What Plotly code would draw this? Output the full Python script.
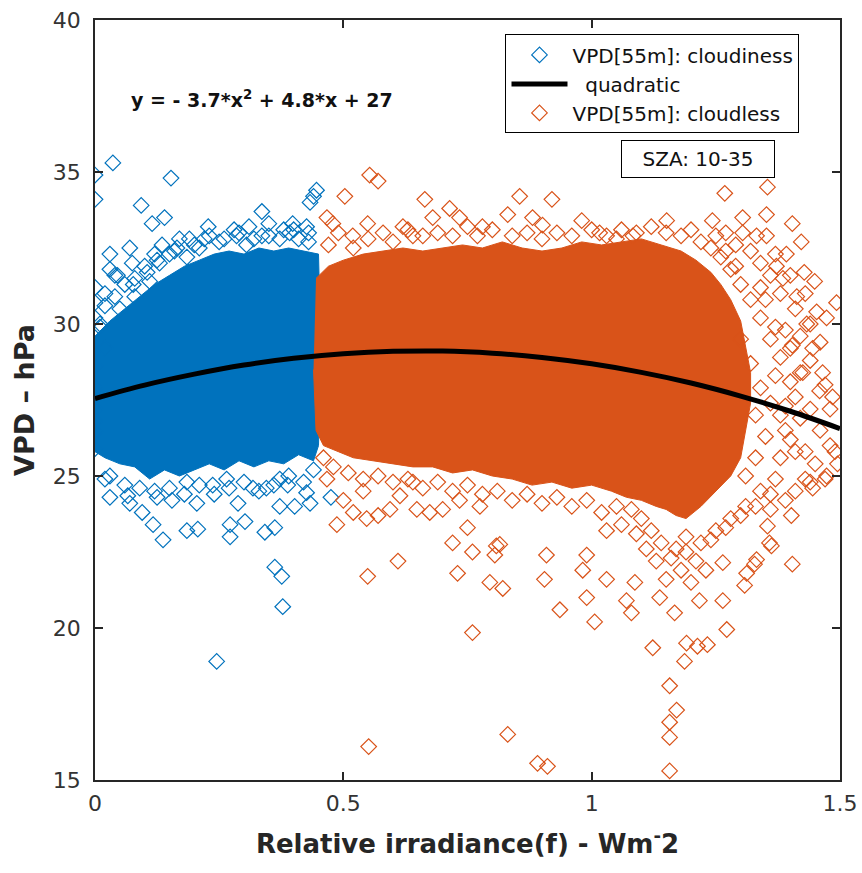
import plotly.graph_objects as go

# ---------------- data ----------------
# cloudiness: dense core envelope (x, y)
blue_core_x = [0, 0.03, 0.06, 0.09, 0.12, 0.15, 0.18, 0.21, 0.24, 0.27, 0.30, 0.33, 0.36, 0.39, 0.42, 0.45,
               0.455, 0.45,
               0.44, 0.41, 0.38, 0.35, 0.32, 0.29, 0.26, 0.23, 0.20, 0.17, 0.14, 0.11, 0.08, 0.05, 0.02, 0]
blue_core_y = [29.6, 30.1, 30.5, 30.9, 31.3, 31.6, 31.9, 32.1, 32.3, 32.4, 32.3, 32.5, 32.4, 32.5, 32.4, 32.3,
               29.0, 26.0,
               25.5, 25.7, 25.4, 25.5, 25.3, 25.5, 25.2, 25.4, 25.2, 25.0, 25.2, 24.9, 25.3, 25.4, 25.6, 25.8]

# cloudiness: individual points
blue_x = [0.036, 0.0, 0.0, 0.153, 0.093, 0.115, 0.14, 0.336, 0.44, 0.446, 0.433, 0.228, 0.07, 0.03, 0.03, 0.04,
          0.0, 0.0, 0.0, 0.135, 0.165, 0.19, 0.285, 0.336, 0.372, 0.398, 0.426, 0.077, 0.105, 0.125, 0.15,
          0.185, 0.21, 0.25, 0.305, 0.392,
          0.245, 0.378, 0.362, 0.376, 0.137, 0.117, 0.095, 0.03, 0.07, 0.125, 0.155, 0.185, 0.207, 0.205,
          0.272, 0.272, 0.302, 0.288, 0.342, 0.362, 0.372, 0.402, 0.433, 0.475, 0.388, 0.318, 0.237, 0.0,
          0.0, 0.02, 0.066, 0.185, 0.265, 0.345, 0.372, 0.426,
          0.01, 0.02, 0.0, 0.0, 0.0, 0.0, 0.02, 0.04, 0.06, 0.08, 0.10, 0.13, 0.16, 0.20, 0.23, 0.26, 0.29,
          0.32, 0.35, 0.38, 0.41, 0.43, 0.03, 0.06, 0.09, 0.12, 0.15, 0.18, 0.21, 0.24, 0.27, 0.30, 0.33,
          0.36, 0.39, 0.42, 0.44,
          0.05, 0.08, 0.11, 0.045, 0.075, 0.02, 0.01, 0.12, 0.17, 0.22, 0.28, 0.31, 0.35, 0.40, 0.43]
blue_y = [35.3, 34.9, 34.1, 34.8, 33.9, 33.3, 33.5, 33.7, 34.2, 34.4, 34.0, 33.2, 32.5, 32.3, 31.8, 31.6,
          31.2, 30.7, 30.2, 32.6, 32.5, 32.8, 32.9, 32.9, 32.8, 33.3, 33.2, 31.3, 31.7, 32.1, 32.3,
          32.2, 32.5, 32.7, 32.6, 33.0,
          18.9, 20.7, 22.0, 21.7, 22.9, 23.4, 23.8, 24.3, 24.1, 24.3, 24.2, 23.2, 23.25, 24.1,
          23.0, 23.4, 23.5, 24.1, 23.15, 23.3, 24.0, 24.0, 24.1, 24.3, 24.7, 24.6, 24.7, 26.45,
          25.9, 24.9, 24.35, 24.8, 24.9, 24.6, 24.9, 24.45,
          30.0, 29.2, 28.6, 27.9, 27.2, 26.8, 31.0, 30.9, 31.3, 31.5, 31.9, 32.0, 32.4, 32.6, 32.9, 32.8, 33.0,
          32.8, 32.9, 33.1, 32.8, 33.0, 25.0, 24.7, 24.6, 24.5, 24.6, 24.4, 24.7, 24.4, 24.6, 24.8, 24.5,
          24.7, 25.0, 24.8, 25.2,
          30.5, 30.9, 31.4, 31.6, 32.0, 30.6, 29.9, 32.3, 32.8, 32.8, 33.1, 33.2, 33.3, 33.1, 32.7]

# cloudless: dense core envelope (x, y)
orange_core_x = [0.445, 0.47, 0.50, 0.54, 0.58, 0.62, 0.66, 0.70, 0.74, 0.78, 0.82, 0.86, 0.90, 0.94, 0.98,
                 1.02, 1.06, 1.10, 1.14, 1.18, 1.21, 1.24, 1.26, 1.28, 1.30, 1.31, 1.32, 1.32,
                 1.31, 1.30, 1.28,
                 1.25, 1.22, 1.19, 1.17, 1.15, 1.13, 1.10, 1.07, 1.04, 1.00, 0.96, 0.92, 0.88, 0.84,
                 0.80, 0.76, 0.72, 0.68, 0.64, 0.60, 0.56, 0.52, 0.49, 0.46, 0.445, 0.44]
orange_core_y = [31.5, 31.9, 32.1, 32.3, 32.4, 32.5, 32.4, 32.5, 32.6, 32.5, 32.7, 32.5, 32.4, 32.5, 32.7,
                 32.6, 32.7, 32.8, 32.6, 32.4, 32.1, 31.7, 31.3, 30.8, 30.1, 29.3, 28.4, 27.4,
                 26.5, 25.6, 25.0,
                 24.5, 24.0, 23.6, 23.7, 23.9, 24.0, 24.2, 24.3, 24.5, 24.7, 24.6, 24.8, 24.7, 24.9,
                 25.0, 25.2, 25.1, 25.3, 25.3, 25.4, 25.5, 25.6, 25.8, 26.0, 26.5, 28.5]

# cloudless: individual points
orange_x = [0.664, 0.714, 0.734, 0.855, 0.831, 0.92, 0.98, 1.268, 1.354, 1.352, 1.304, 1.243, 1.404, 1.422,
            1.352, 1.392, 1.428, 1.449, 1.493, 1.453, 1.473, 1.445, 1.465, 1.485, 1.459, 1.425, 1.404, 1.433,
            1.413, 1.385, 1.372, 1.151, 1.304, 1.332, 1.083, 1.05, 1.016, 0.901, 0.881, 0.78, 0.68, 0.62, 0.64,
            1.495, 1.473, 1.445, 1.402, 1.404, 1.362, 1.354, 1.328, 1.308, 1.264, 1.272, 1.217, 1.233, 1.213,
            1.191, 1.187, 1.157, 1.171, 1.157, 1.157, 1.157, 1.123, 1.137, 1.167, 1.08, 1.07, 1.006, 0.99,
            0.936, 0.831, 0.891, 0.911, 0.821, 0.795, 0.905, 0.909, 0.99, 0.982, 1.03, 0.815, 0.805, 1.087,
            1.264, 1.312, 1.332, 1.358,
            0.549, 0.61, 0.73, 0.72, 0.76, 0.76, 0.75, 0.487, 0.467, 0.52, 0.547, 0.57, 0.594, 0.648, 0.674,
            0.7, 0.5, 0.54, 0.614, 0.64, 0.734, 0.775, 0.808, 0.551,
            0.553, 0.503, 0.467, 0.479, 0.549, 0.519, 0.57,
            0.47, 0.49, 0.52, 0.55, 0.58, 0.60, 0.63, 0.66, 0.69, 0.72, 0.75, 0.77, 0.80, 0.84, 0.87, 0.90,
            0.93, 0.96, 1.00, 1.03, 1.06, 1.09, 1.12, 1.15, 1.18, 1.20, 1.22, 1.24, 1.26, 1.28, 1.30, 1.32,
            1.34, 1.36, 1.38, 1.40, 1.39, 1.42, 1.40, 1.43, 1.38, 1.37, 1.34, 1.31, 1.28, 1.25, 1.22, 1.19,
            1.16, 1.14, 1.12, 1.10, 1.08, 1.05, 1.02, 0.99, 0.96, 0.93, 0.90, 0.87, 0.84, 0.81, 0.78, 0.75,
            0.72, 0.69, 0.66, 0.63, 0.60, 0.57, 0.54, 0.51, 0.48, 0.46,
            1.42, 1.44, 1.47, 1.41, 1.44, 1.46, 1.48, 1.45, 1.43, 1.41, 1.39, 1.36, 1.37, 1.39, 1.41, 1.38,
            1.36, 1.34, 1.32, 1.29, 1.27, 1.25,
            1.30, 1.32, 1.34, 1.33, 1.35, 1.33, 1.31, 1.38, 1.40, 1.42, 1.44, 1.46, 1.43, 1.40, 1.37, 1.35,
            1.37, 1.39, 1.41, 1.44, 1.47, 1.49, 1.48, 1.36, 1.33, 1.30, 1.27, 1.24, 1.21, 1.18, 1.15, 1.13,
            1.19, 1.17, 1.20, 1.23, 1.11, 1.09, 1.06, 1.03, 1.34, 1.36, 1.29, 1.27]
orange_y = [34.1, 33.8, 33.5, 34.2, 33.6, 34.1, 33.4, 34.3, 34.5, 33.6, 33.5, 33.4, 33.3, 32.7,
            32.9, 32.3, 31.7, 31.4, 30.7, 30.4, 30.2, 29.2, 28.4, 27.6, 27.8, 28.4, 29.3, 30.0,
            30.9, 31.5, 31.9, 33.4, 33.0, 32.9, 32.9, 32.8, 33.0, 33.25, 33.5, 33.2, 33.5, 33.2, 32.9,
            25.4, 25.0, 24.6, 23.7, 22.1, 22.7, 23.35, 22.1, 21.4, 20.9, 19.95, 20.9, 19.45, 19.4,
            19.5, 18.9, 18.1, 17.3, 16.9, 16.4, 15.3, 19.35, 21.0, 20.5, 20.5, 20.9, 20.2, 21.0,
            20.6, 16.5, 15.55, 15.45, 21.3, 21.5, 21.6, 22.4, 22.4, 21.9, 21.6, 22.75, 22.4, 21.5,
            22.15, 21.8, 22.25, 22.8,
            21.7, 22.2, 21.8, 22.8, 22.5, 19.85, 23.3, 23.4, 24.9, 23.8, 23.6, 23.7, 23.9, 23.9, 23.8,
            23.9, 24.2, 24.5, 24.35, 24.8, 24.2, 24.0, 22.7, 16.1,
            34.9, 34.2, 33.5, 33.3, 33.3, 32.9, 34.7,
            32.6, 33.0, 32.5, 32.8, 33.0, 32.7, 33.1, 32.9, 33.0, 32.9, 33.2, 32.9, 33.1, 32.9, 33.0, 32.8,
            33.0, 32.9, 33.1, 32.9, 33.1, 33.0, 33.2, 33.0, 32.9, 33.1, 32.7, 32.5, 32.2, 31.8, 31.3, 30.8,
            30.2, 29.5, 28.9, 28.1, 27.3, 26.9, 26.2, 25.8, 25.6, 24.9, 24.5, 24.0, 23.6, 23.2, 22.8, 22.5,
            22.3, 22.8, 23.2, 23.6, 23.9, 24.0, 23.8, 24.2, 24.0, 24.3, 24.1, 24.4, 24.2, 24.5, 24.4, 24.7,
            24.5, 24.8, 24.6, 24.9, 24.8, 25.0, 24.9, 25.1, 25.3, 25.6,
            29.6, 28.8, 28.0, 27.6, 27.2, 26.5, 26.0, 25.4, 24.9, 24.5, 24.2, 23.9, 28.3, 29.8, 30.5, 31.0,
            31.6, 32.0, 32.4, 32.6, 33.0, 32.9,
            29.5, 28.7, 27.9, 27.0, 26.3, 25.6, 25.0, 27.0, 29.2, 28.4, 30.0, 29.4, 31.0, 31.6, 32.3, 30.8,
            29.9, 26.5, 25.8, 24.8, 24.9, 25.8, 27.2, 24.4, 24.0, 23.7, 23.3, 22.9, 22.2, 21.9, 21.6, 22.2,
            23.0, 22.6, 21.5, 21.9, 22.6, 23.1, 23.4, 23.2, 31.2, 27.4, 31.9, 32.4]

# quadratic fit curve
fit_x = [0, 0.1, 0.2, 0.3, 0.4, 0.5, 0.6, 0.7, 0.8, 0.9, 1.0, 1.1, 1.2, 1.3, 1.4, 1.5]
fit_y = [27.55, 27.99, 28.35, 28.65, 28.87, 29.02, 29.10, 29.11, 29.04, 28.90, 28.69, 28.41, 28.06, 27.63,
         27.13, 26.56]

x_ticks = [0, 0.5, 1, 1.5]
x_tick_labels = ["0", "0.5", "1", "1.5"]
y_ticks = [15, 20, 25, 30, 35, 40]

# ---------------- styling ----------------
BLUE = "#0072BD"
ORANGE = "#D95319"
FONT = "DejaVu Sans"
AX = "#262626"

fig = go.Figure()

fig.add_trace(go.Scatter(x=blue_core_x, y=blue_core_y, mode="lines", fill="toself",
                         fillcolor=BLUE, line=dict(color=BLUE, width=1),
                         showlegend=False, hoverinfo="skip"))
fig.add_trace(go.Scatter(x=blue_x, y=blue_y, mode="markers", name="VPD[55m]: cloudiness",
                         marker=dict(symbol="diamond-open", size=12, color=BLUE, line=dict(width=1.2)),
                         legendrank=1))
fig.add_trace(go.Scatter(x=orange_core_x, y=orange_core_y, mode="lines", fill="toself",
                         fillcolor=ORANGE, line=dict(color=ORANGE, width=1),
                         showlegend=False, hoverinfo="skip"))
fig.add_trace(go.Scatter(x=orange_x, y=orange_y, mode="markers", name="VPD[55m]: cloudless",
                         marker=dict(symbol="diamond-open", size=12, color=ORANGE, line=dict(width=1.2)),
                         legendrank=3))
fig.add_trace(go.Scatter(x=fit_x, y=fit_y, mode="lines", name="\u00a0\u00a0quadratic",
                         line=dict(color="black", width=5, shape="spline"), legendrank=2))

fig.update_layout(
    width=862, height=873,
    margin=dict(l=95, r=22, t=20, b=93, autoexpand=False),
    plot_bgcolor="white", paper_bgcolor="white",
    font=dict(family=FONT, color=AX),
    showlegend=True,
    legend=dict(x=0.551, y=0.981, xanchor="left", yanchor="top",
                bgcolor="white", bordercolor="black", borderwidth=1,
                font=dict(size=20, family=FONT, color="#111111"),
                tracegroupgap=0, itemwidth=56),
    annotations=[
        dict(x=0.045, y=0.896, xref="paper", yref="paper", xanchor="left", yanchor="middle",
             text="<b>y = - 3.7*x<sup>2</sup> + 4.8*x + 27</b>", showarrow=False,
             font=dict(size=19, family=FONT, color="#111111")),
        dict(x=0.809, y=0.817, xref="paper", yref="paper", xanchor="center", yanchor="middle",
             text="SZA: 10-35", showarrow=False, bgcolor="white", bordercolor="black",
             borderwidth=1, borderpad=6, width=140,
             font=dict(size=20, family=FONT, color="#111111")),
    ],
)

fig.update_xaxes(range=[0, 1.5], tickvals=x_ticks, ticktext=x_tick_labels, automargin=False,
                 showline=True, linecolor=AX, linewidth=1.5, mirror="ticks",
                 ticks="inside", ticklen=8, tickwidth=1.5, tickcolor=AX,
                 showgrid=False, zeroline=False, ticklabelstandoff=3,
                 tickfont=dict(size=22, family=FONT, color="#333333"),
                 title=dict(text="<b>Relative irradiance(f) - Wm<sup>-</sup>2</b>",
                            font=dict(size=26, family=FONT, color=AX), standoff=20))
fig.update_yaxes(range=[15, 40], tickvals=y_ticks, automargin=False,
                 showline=True, linecolor=AX, linewidth=1.5, mirror="ticks",
                 ticks="inside", ticklen=8, tickwidth=1.5, tickcolor=AX,
                 showgrid=False, zeroline=False, ticklabelstandoff=8,
                 tickfont=dict(size=22, family=FONT, color="#333333"),
                 title=dict(text="<b>VPD – hPa</b>",
                            font=dict(size=27, family=FONT, color=AX), standoff=10))

fig.write_html("out.html")
